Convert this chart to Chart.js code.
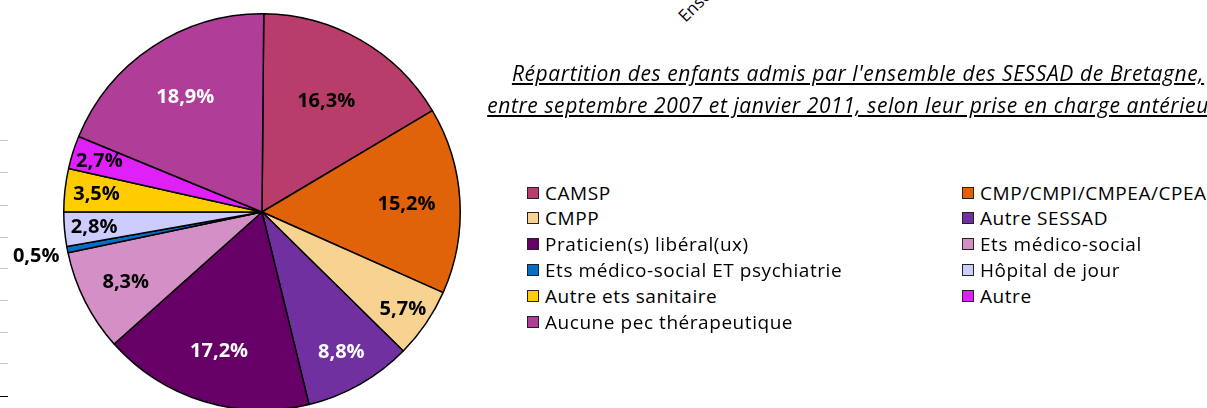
<!DOCTYPE html>
<html>
<head>
<meta charset="utf-8">
<script src="https://cdn.jsdelivr.net/npm/chart.js@4.4.0/dist/chart.umd.min.js"></script>
<style>
  html, body { margin: 0; padding: 0; background: #fff; overflow: hidden; }
  body { width: 1207px; height: 408px; position: relative; font-family: "Open Sans", sans-serif; }
  #pie { position: absolute; left: 0; top: 0; }
  .title { position: absolute; left: 458px; width: 800px; text-align: center; font-style: italic;
           font-size: 21px; letter-spacing: 0.6px; text-decoration: underline; color: #000; white-space: nowrap; }
  .leg { position: absolute; font-size: 19px; letter-spacing: 0.55px; color: #000; white-space: nowrap; line-height: 22px; }
  .leg i { position: absolute; left: -18px; top: 5px; width: 10px; height: 10px; border: 1px solid #222; }
  .tick { position: absolute; left: 0; width: 8px; height: 1px; background: #c8c8c8; }
  .rot { position: absolute; left: 681px; top: 7px; font-size: 17px; transform: rotate(-45deg); transform-origin: left center; }
</style>
</head>
<body>
<canvas id="pie" width="530" height="430"></canvas>
<div class="rot">Ensemble</div>
<div class="title" style="top:59px">Répartition des enfants admis par l'ensemble des SESSAD de Bretagne,</div>
<div class="title" style="top:91px">entre septembre 2007 et janvier 2011, selon leur prise en charge antérieure</div>
<div id="legend"></div>
<script>
// catégories, valeurs (%), couleurs
var categories = [
  "CAMSP",
  "CMP/CMPI/CMPEA/CPEA",
  "CMPP",
  "Autre SESSAD",
  "Praticien(s) libéral(ux)",
  "Ets médico-social",
  "Ets médico-social ET psychiatrie",
  "Hôpital de jour",
  "Autre ets sanitaire",
  "Autre",
  "Aucune pec thérapeutique"
];
var values = [16.3, 15.2, 5.7, 8.8, 17.2, 8.3, 0.5, 2.8, 3.5, 2.7, 18.9];
var colors = ["#B83D6B", "#E0630A", "#F8D290", "#7030A0", "#660066", "#D38FC6",
              "#0070C8", "#CCCCFF", "#FFCC00", "#E020F8", "#B03E98"];
var labelColors = ["#000", "#000", "#000", "#fff", "#fff", "#000", "#000", "#000", "#000", "#000", "#fff"];
// distance du libellé (fraction du rayon)
var labelDist = [0.65, 0.73, 0.86, 0.81, 0.73, 0.77, 1.16, 0.85, 0.84, 0.86, 0.70];

// petits traits gris sur le bord gauche
[140, 172, 205, 237, 268, 300, 332, 363].forEach(function (y) {
  var d = document.createElement("div");
  d.className = "tick";
  d.style.top = y + "px";
  document.body.appendChild(d);
});
var blk = document.createElement("div");
blk.className = "tick";
blk.style.top = "396px";
blk.style.background = "#000";
document.body.appendChild(blk);

// légende en deux colonnes
var leg = document.getElementById("legend");
categories.forEach(function (c, i) {
  var col = i % 2, row = Math.floor(i / 2);
  var d = document.createElement("div");
  d.className = "leg";
  d.style.left = (col ? 980 : 545) + "px";
  d.style.top = (181.5 + row * 25.8) + "px";
  d.innerHTML = '<i style="background:' + colors[i] + '"></i>' + c;
  leg.appendChild(d);
});

var pctLabels = {
  id: "pctLabels",
  afterDatasetsDraw: function (chart) {
    var ctx = chart.ctx;
    var meta = chart.getDatasetMeta(0);
    ctx.save();
    ctx.font = "bold 20px 'Open Sans', sans-serif";
    ctx.textAlign = "center";
    ctx.textBaseline = "middle";
    meta.data.forEach(function (arc, i) {
      var a = (arc.startAngle + arc.endAngle) / 2;
      var r = arc.outerRadius * labelDist[i];
      ctx.fillStyle = labelColors[i];
      ctx.fillText(values[i].toFixed(1).replace(".", ",") + "%", arc.x + Math.cos(a) * r, arc.y + Math.sin(a) * r + 1);
    });
    ctx.restore();
  }
};

new Chart(document.getElementById("pie"), {
  type: "pie",
  data: {
    labels: categories,
    datasets: [{
      data: values,
      backgroundColor: colors,
      borderColor: "#000",
      borderWidth: 1.5
    }]
  },
  options: {
    responsive: false,
    animation: false,
    rotation: 0.5,
    layout: { padding: { left: 63, right: 69, top: 13, bottom: 19 } },
    plugins: {
      legend: { display: false },
      tooltip: { enabled: false }
    }
  },
  plugins: [pctLabels]
});
</script>
</body>
</html>
